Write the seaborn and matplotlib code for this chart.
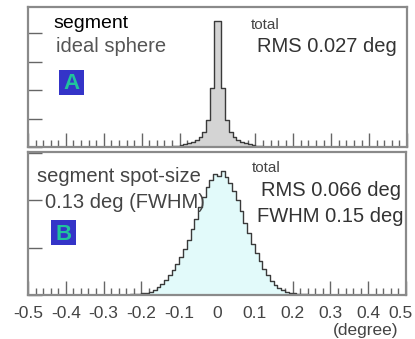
import numpy as np
import pandas as pd
import matplotlib
matplotlib.use("Agg")
import matplotlib.pyplot as plt
import matplotlib.transforms as mtransforms
import seaborn as sns
from matplotlib.patches import Rectangle
from matplotlib.ticker import MultipleLocator

sns.set_theme(style="white")
plt.rcParams['font.family'] = ['Liberation Sans', 'DejaVu Sans']
plt.rcParams['axes.unicode_minus'] = False

# ---- data (bin centers in degrees, bin heights) ----
top_centers = [-0.125, -0.115, -0.105, -0.095, -0.085, -0.075, -0.065, -0.055,
               -0.045, -0.035, -0.025, -0.015, -0.005, 0.005, 0.015, 0.025,
               0.035, 0.045, 0.055, 0.065, 0.075, 0.085, 0.095, 0.105,
               0.115, 0.125]
top_heights = [0.5, 1, 1.5, 2, 3, 4, 5, 7,
               10, 15, 27, 59, 126, 126, 59, 27,
               15, 10, 7, 5, 4, 3, 2, 1.5,
               1, 0.5]

bot_centers = [-0.245, -0.235, -0.225, -0.215, -0.205, -0.195, -0.185, -0.175,
               -0.165, -0.155, -0.145, -0.135, -0.125, -0.115, -0.105, -0.095,
               -0.085, -0.075, -0.065, -0.055, -0.045, -0.035, -0.025, -0.015,
               -0.005, 0.005, 0.015, 0.025, 0.035, 0.045, 0.055, 0.065,
               0.075, 0.085, 0.095, 0.105, 0.115, 0.125, 0.135, 0.145,
               0.155, 0.165, 0.175, 0.185, 0.195, 0.205, 0.215, 0.225,
               0.235, 0.245]
bot_heights = [0, 0, 0.5, 1, 1, 2, 2, 3,
               5, 8, 11, 15, 20, 25, 31, 38,
               46, 55, 66, 76, 88, 98, 108, 115,
               121, 119, 124, 118, 112, 104, 95, 84,
               72, 62, 51, 42, 34, 26, 20, 14,
               10, 7, 5, 3, 2, 2, 1, 1,
               0.5, 0]

xtick_vals = [-0.5, -0.4, -0.3, -0.2, -0.1, 0.0, 0.1, 0.2, 0.3, 0.4, 0.5]
xtick_labels = ["-0.5", "-0.4", "-0.3", "-0.2", "-0.1", "0", "0.1", "0.2", "0.3", "0.4", "0.5"]

df_top = pd.DataFrame({"x": top_centers, "w": top_heights})
df_bot = pd.DataFrame({"x": bot_centers, "w": bot_heights})

W, H = 415, 339
fig = plt.figure(figsize=(W / 100, H / 100), dpi=100)

def ax_rect(l, t, r, b):
    return [l / W, 1 - b / H, (r - l) / W, (b - t) / H]

ax1 = fig.add_axes(ax_rect(28, 7, 407, 147))
ax2 = fig.add_axes(ax_rect(28, 152, 406, 295))

sns.histplot(data=df_top, x="x", weights="w", binwidth=0.01, binrange=(-0.5, 0.5),
             element="step", fill=True, color="#555555", facecolor="#d4d4d4",
             edgecolor="#3a3a3a", linewidth=1.0, alpha=1.0, ax=ax1)
sns.histplot(data=df_bot, x="x", weights="w", binwidth=0.01, binrange=(-0.5, 0.5),
             element="step", fill=True, color="#555555", facecolor="#e2fafa",
             edgecolor="#3a3a3a", linewidth=1.0, alpha=1.0, ax=ax2)

ax1.set_ylim(0, 140)
ax2.set_ylim(0, 143)
for ax, ystep in ((ax1, 28.5), (ax2, 47.5)):
    ax.set_xlim(-0.5, 0.5)
    ax.set_xlabel("")
    ax.set_ylabel("")
    ax.set_xticks(xtick_vals)
    ax.xaxis.set_minor_locator(MultipleLocator(0.02))
    ax.yaxis.set_major_locator(MultipleLocator(ystep))
    ax.set_yticklabels([])
    ax.tick_params(axis="both", which="major", direction="in", length=10,
                   width=1.0, color="#666666", bottom=True, left=True,
                   top=False, right=False)
    ax.tick_params(axis="x", which="minor", direction="in", length=5,
                   width=1.0, color="#666666", bottom=True, top=False)
    for s in ax.spines.values():
        s.set_color("#8a8a8a")
        s.set_linewidth(1.6)

ax1.set_xticklabels([])
ax2.set_xticklabels(xtick_labels, fontsize=12.5, color="#444444")
ax2.tick_params(axis="x", which="major", pad=8)
# nudge the last label a few pixels left so it stays inside the figure
last = ax2.get_xticklabels()[-1]
last.set_transform(last.get_transform() +
                   mtransforms.ScaledTranslation(-6 / 100, 0, fig.dpi_scale_trans))

def ftext(x, y, s, **kw):
    fig.text(x / W, 1 - y / H, s, va="center", **kw)

# top panel annotations
ftext(53, 23, "segment", fontsize=14, color="black")
ftext(56, 46, "ideal sphere", fontsize=14.5, color="#555555")
ftext(251, 25, "total", fontsize=11, color="#444444")
ftext(257, 46, "RMS 0.027 deg", fontsize=14.5, color="#333333")

# bottom panel annotations
ftext(37, 177, "segment spot-size", fontsize=14.5, color="#444444")
ftext(45, 202, "0.13 deg (FWHM)", fontsize=14.5, color="#444444")
ftext(252, 168, "total", fontsize=11, color="#444444")
ftext(261, 190, "RMS 0.066 deg", fontsize=14.5, color="#333333")
ftext(257, 216, "FWHM 0.15 deg", fontsize=14.5, color="#333333")
ftext(398, 330, "(degree)", fontsize=12.5, color="#444444", ha="right")

# labelled boxes
for (bx, by, lab) in ((59, 70, "A"), (51, 220, "B")):
    fig.patches.append(Rectangle((bx / W, 1 - (by + 25) / H), 25 / W, 25 / H,
                                 transform=fig.transFigure, facecolor="#3434c8",
                                 edgecolor="none", zorder=5))
    fig.text((bx + 12.5) / W, 1 - (by + 14) / H, lab, ha="center", va="center",
             fontsize=16, fontweight="bold", color="#20c49c", zorder=6)

fig.savefig("out.png", dpi=100, facecolor="white")
